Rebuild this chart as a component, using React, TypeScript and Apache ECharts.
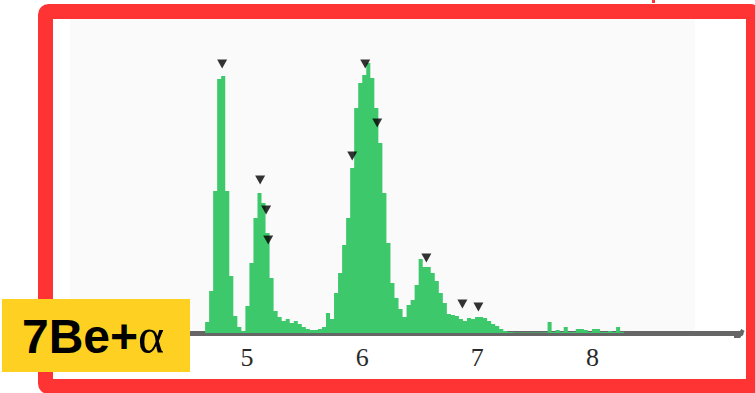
import React, { useEffect, useRef } from "react";
import * as echarts from "echarts";

// Spectrum binning (MeV)
const E_START = 4.635;
const BIN_WIDTH = 0.035;

// Counts per bin, starting at E_START
const counts = [
  11, 42, 142, 254, 257, 142, 57, 17, 6, 2,
  27, 70, 115, 140, 130, 100, 55, 22, 16, 12,
  14, 10, 12, 9, 6, 4, 3, 3, 4, 6,
  20, 14, 40, 60, 88, 115, 165, 225, 250, 258,
  270, 255, 225, 190, 140, 90, 50, 35, 24, 16,
  28, 33, 48, 74, 66, 66, 60, 52, 40, 30,
  19, 18, 17, 14, 12, 15, 14, 16, 16, 15,
  12, 9, 7, 4, 2, 1, 0.6, 0.6, 0.6, 0.6,
  0.6, 0.6, 0.6, 0.6, 0.6, 11, 1, 3, 1, 6,
  1, 1, 4, 4, 3, 1, 4, 4, 1, 1,
  2, 1, 6, 1,
];

// Peak markers (energy, height)
const peakE = [4.783, 5.113, 5.165, 5.183, 5.913, 6.026, 6.13, 6.557, 6.87, 7.009];
const peakY = [269, 153, 123, 93, 177, 269, 210, 75, 29, 26];

const tickLabels = [5, 6, 7, 8];

const title = "7Be+";
const titleGreek = "α";

export default function App() {
  const ref = useRef<HTMLDivElement>(null);

  useEffect(() => {
    if (!ref.current) return;
    const chart = echarts.init(ref.current, null, { renderer: "svg" });

    const stepData: [number, number][] = counts.map((c, i) => [E_START + i * BIN_WIDTH, c]);
    stepData.push([E_START + counts.length * BIN_WIDTH, 0]);

    const markers = peakE.map((e, i) => [e, peakY[i]]);

    chart.setOption({
      animation: false,
      backgroundColor: "#ffffff",
      grid: { left: 132, right: 14, top: 33, bottom: 60 },
      xAxis: {
        type: "value",
        min: 4,
        max: 9.29,
        interval: 1,
        offset: 2.5,
        axisLine: { show: true, lineStyle: { color: "#666666", width: 5 } },
        axisTick: { show: false },
        splitLine: { show: false },
        axisLabel: {
          margin: 9,
          fontFamily: "Liberation Serif",
          fontSize: 26,
          color: "#2a2a2a",
          formatter: (v: number) => (tickLabels.includes(v) ? String(v) : ""),
        },
      },
      yAxis: {
        type: "value",
        min: 0,
        max: 300,
        show: false,
      },
      graphic: [
        {
          type: "rect",
          z: 0,
          shape: { x: 70, y: 19, width: 625, height: 314 },
          style: { fill: "#fafafa" },
          silent: true,
        },
        {
          type: "polyline",
          z: 0,
          shape: { points: [[734, 336], [739, 336], [743, 330]] },
          style: { stroke: "#666666", lineWidth: 4, fill: "none" },
          silent: true,
        },
        {
          type: "rect",
          z: 50,
          shape: { x: 45.5, y: 11.5, width: 708, height: 375, r: 3 },
          style: { fill: "none", stroke: "#fe3434", lineWidth: 15 },
          silent: true,
        },
        {
          type: "rect",
          z: 50,
          shape: { x: 652, y: 0, width: 3, height: 3 },
          style: { fill: "#fe3434" },
          silent: true,
        },
        {
          type: "rect",
          z: 100,
          shape: { x: 2, y: 299, width: 188, height: 73 },
          style: { fill: "#fdd022" },
          silent: true,
        },
        {
          type: "text",
          z: 101,
          x: 22,
          y: 336,
          style: {
            text: `{a|${title}}{b|${titleGreek}}`,
            verticalAlign: "middle",
            rich: {
              a: { fontSize: 48, fontWeight: "bold", fontFamily: "Liberation Sans", fill: "#000000" },
              b: { fontSize: 50, fontFamily: "Liberation Serif", fill: "#000000" },
            },
          },
          silent: true,
        },
      ],
      series: [
        {
          type: "line",
          step: "end",
          data: stepData,
          showSymbol: false,
          symbol: "none",
          lineStyle: { width: 0 },
          areaStyle: { color: "#3dc86b", opacity: 1 },
          z: 2,
        },
        {
          type: "scatter",
          data: markers,
          symbol: "triangle",
          symbolRotate: 180,
          symbolSize: [10, 9],
          itemStyle: { color: "#000000" },
          z: 3,
        },
      ],
    });

    return () => chart.dispose();
  }, []);

  return <div ref={ref} style={{ width: 755, height: 393, position: "absolute", left: 0, top: 0 }} />;
}
